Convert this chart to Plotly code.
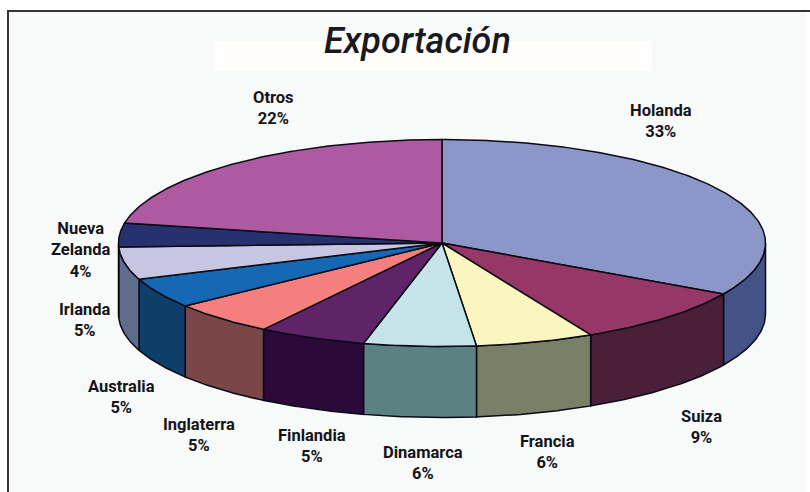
import math
import plotly.graph_objects as go

# Data
categories = ["Holanda", "Suiza", "Francia", "Dinamarca", "Finlandia",
              "Inglaterra", "Australia", "Irlanda", "Nueva<br>Zelanda", "Otros"]
shares = [33.2, 9.2, 5.9, 5.6, 5.4, 5.3, 4.7, 5.1, 3.7, 21.9]
percent_labels = ["33%", "9%", "6%", "6%", "5%", "5%", "5%", "5%", "4%", "22%"]
title_text = "Exportación"

# Styles
top_colors = ["#8c96c9", "#963768", "#fbf5bf", "#c4e4ea", "#5f2468",
              "#f57f7f", "#1668b4", "#c6c6e2", "#28316f", "#ae5aa2"]
side_colors = ["#445285", "#4a1f38", "#7a8068", "#5b8183", "#2b0a3a",
               "#7a4648", "#0e3e6a", "#5f6d8d", "#1c2350", "#6f3a68"]
label_x = [661, 701, 547, 423, 312, 199, 121, 85, 80, 273]
label_y = [121, 427, 452, 463, 446, 435, 397, 320, 250, 108]

# Pie geometry in page pixels
CX, CY, RX, RY, DEPTH = 442, 243, 323.5, 103.5, 71


def pt(deg, drop=0):
    a = math.radians(deg)
    return CX + RX * math.sin(a), CY - RY * math.cos(a) + drop


def arc(a0, a1, drop=0):
    n = max(2, int(abs(a1 - a0)) * 2 + 2)
    return [pt(a0 + (a1 - a0) * i / (n - 1), drop) for i in range(n)]


fig = go.Figure()
total = sum(shares)
edges = [0]
for s in shares:
    edges.append(edges[-1] + s / total * 360)

# Walls: only the front half (90..270 degrees) is visible
for i in range(len(shares)):
    a0, a1 = max(edges[i], 90), min(edges[i + 1], 270)
    if a1 <= a0:
        continue
    poly = arc(a0, a1) + arc(a1, a0, DEPTH)
    poly.append(poly[0])
    fig.add_trace(go.Scatter(
        x=[p[0] for p in poly], y=[p[1] for p in poly], mode="lines",
        fill="toself", fillcolor=side_colors[i],
        line=dict(color="#0a0a14", width=1.5), hoverinfo="skip", showlegend=False))

# Top face slices
for i in range(len(shares)):
    poly = [(CX, CY)] + arc(edges[i], edges[i + 1]) + [(CX, CY)]
    fig.add_trace(go.Scatter(
        x=[p[0] for p in poly], y=[p[1] for p in poly], mode="lines",
        fill="toself", fillcolor=top_colors[i],
        line=dict(color="#0a0a14", width=1.5), hoverinfo="skip", showlegend=False))

for i, name in enumerate(categories):
    fig.add_annotation(
        x=label_x[i], y=label_y[i], xref="x", yref="y", showarrow=False,
        text=f"<b>{name}<br>{percent_labels[i]}</b>", align="center",
        font=dict(family="Roboto", size=16.5, color="#141418"))

fig.add_annotation(
    x=417, y=41, xref="x", yref="y", showarrow=False, text=f"<i>{title_text}</i>",
    font=dict(family="Roboto", size=36, weight=500, color="#1a1a1e"))

fig.update_layout(
    width=810, height=492, margin=dict(l=0, r=0, t=0, b=0, pad=0),
    paper_bgcolor="#ffffff", plot_bgcolor="#ffffff", showlegend=False,
    xaxis=dict(range=[0, 810], visible=False, fixedrange=True),
    yaxis=dict(range=[492, 0], visible=False, fixedrange=True),
    shapes=[
        dict(type="rect", x0=8, x1=806, y0=11, y1=492, layer="below",
             fillcolor="#f8f9f9", line_width=0),
        dict(type="rect", x0=214, x1=652, y0=41, y1=71, layer="below",
             fillcolor="#fffefc", line_width=0),
        dict(type="line", x0=8, x1=810, y0=11, y1=11, line=dict(color="#333338", width=2)),
        dict(type="line", x0=8, x1=8, y0=10, y1=492, line=dict(color="#333338", width=2)),
    ],
)
fig.write_html("out.html", config={"displayModeBar": False},
               post_script="document.body.style.margin='0';document.body.style.overflow='hidden';")
